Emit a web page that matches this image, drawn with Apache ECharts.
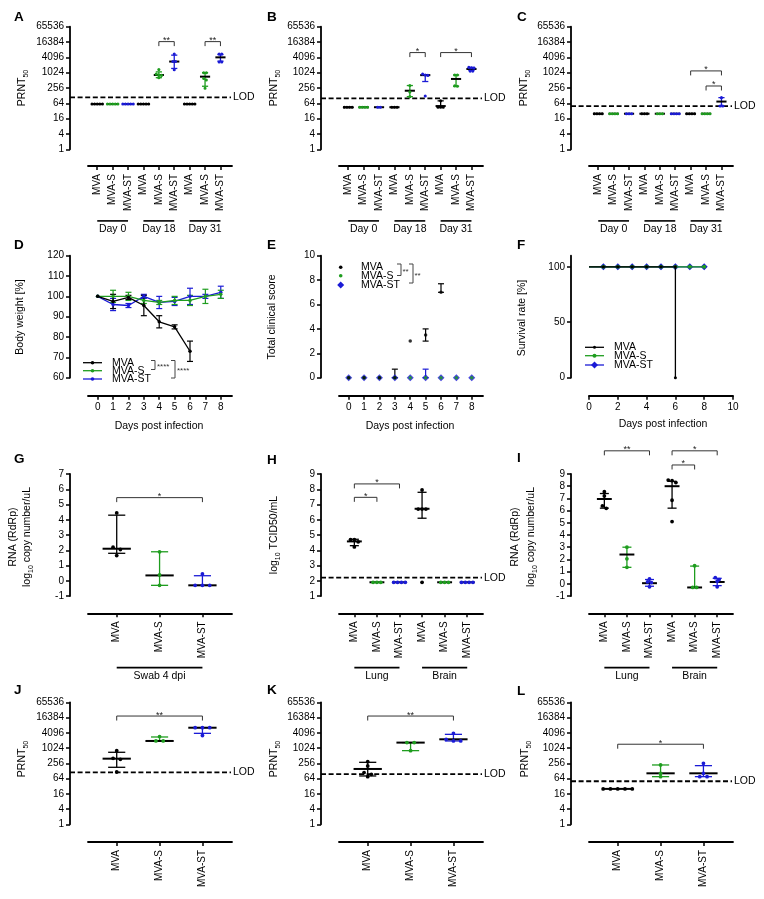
<!DOCTYPE html>
<html>
<head>
<meta charset="utf-8">
<script src="https://cdn.jsdelivr.net/npm/echarts@6.0.0/dist/echarts.min.js"></script>
<style>
html,body{margin:0;padding:0;background:#fff;}
#chart{width:764px;height:899px;}
</style>
</head>
<body>
<div id="chart"></div>
<script>
// ====================== DATA ======================
const CATS9 = ['MVA','MVA-S','MVA-ST','MVA','MVA-S','MVA-ST','MVA','MVA-S','MVA-ST'];
const CATS6 = ['MVA','MVA-S','MVA-ST','MVA','MVA-S','MVA-ST'];
const CATS3 = ['MVA','MVA-S','MVA-ST'];
const DAY_GROUPS = ['Day 0','Day 18','Day 31'];
const ORGAN_GROUPS = ['Lung','Brain'];
const SWAB_GROUPS = ['Swab 4 dpi'];
const PRNT_TICKS = [1,4,16,64,256,1024,4096,16384,65536];

// Panel A
const A_points = [[60,60,60,60,60],[60,60,60,60,60],[60,60,60,60,60],[60,60,60,60,60],[1350,900,820,800,650],[5500,2800,2800,1330],[60,60,60,60,60],[1024,1024,600,530,250],[5500,5500,2700,2700]];
const A_center = [60,60,60,60,830,2800,60,714,4096];
const A_low = [60,60,60,60,650,1500,60,300,2900];
const A_high = [60,60,60,60,1100,5000,60,1024,5300];
const A_lod = 110;
const A_sig = [[4,5,17000,'**'],[7,8,17000,'**']];

// Panel B
const B_points = [[45,45,45,45],[45,45,45,45],[45,45],[45,45,45],[320,180,117],[900,830,800,125],[80,45,45,45],[830,830,310,300],[1650,1600,1550,1180,1180]];
const B_center = [45,45,45,45,200,820,50,580,1430];
const B_low = [45,45,45,45,117,460,45,300,1250];
const B_high = [45,45,45,45,320,820,80,830,1650];
const B_lod = 100;
const B_sig = [[4,5,6300,'*'],[6,8,6300,'*']];

// Panel C
const C_points = [[25,25,25,25],[25,25,25,25],[25,25,25],[25,25,25],[25,25,25],[25,25,25,25],[25,25,25,25],[25,25,25,25],[107,50,50]];
const C_center = [25,25,25,25,25,25,25,25,75];
const C_low = [25,25,25,25,25,25,25,25,50];
const C_high = [25,25,25,25,25,25,25,25,107];
const C_lod = 50;
const C_sig = [[6,8,1200,'*'],[7,8,307,'*']];

// Panel D (body weight %)
const D_days = [0,1,2,3,4,5,6,7,8];
const D_MVA_mean = [100,97.5,99.5,95.5,87.5,85,73];
const D_MVA_sd = [0,3.5,1,5,3,1,5];
const D_MVAS_mean = [100,100,100,98,97,98,98,100,101];
const D_MVAS_sd = [0,3,2,1.5,1,2,2.5,3.5,2];
const D_MVAST_mean = [100,96,95.5,100,97,97.5,100,100,102];
const D_MVAST_sd = [0,3,1,1,3,2,4,1,3];

// Panel E (clinical score)
const E_days = [0,1,2,3,4,5,6,7,8];
const E_MVA = [0,0,0,0,3,3.5,7];
const E_MVA_low = [0,0,0,0,3,3,7];
const E_MVA_high = [0,0,0,0.7,3,4,7.7];
const E_MVAS = [0,0,0,0,0,0,0,0,0];
const E_MVAST = [0,0,0,0,0,0,0,0,0];
const E_MVAST_low = [0,0,0,0,0,0,0,0,0];
const E_MVAST_high = [0,0,0,0,0,0.7,0,0,0];

// Panel F (survival)
const F_MVA_days = [0,1,2,3,4,5,6,6];
const F_MVA = [100,100,100,100,100,100,100,0];
const F_MVAS_days = [0,1,2,3,4,5,6,7,8];
const F_MVAS = [100,100,100,100,100,100,100,100,100];
const F_MVAST_days = [0,1,2,3,4,5,6,7,8];
const F_MVAST = [100,100,100,100,100,100,100,100,100];

// Panel G (swab RNA log10)
const G_points = [[4.45,2.2,2.05,1.65],[1.9,0.38,-0.3],[0.45,-0.3,-0.3,-0.3]];
const G_center = [2.1,0.35,-0.3];
const G_low = [1.8,-0.3,-0.3];
const G_high = [4.3,1.9,0.33];
const G_sig = [[0,2,5.45,'*']];

// Panel H (log10 TCID50/mL)
const H_points = [[4.7,4.7,4.55,4.22],[1.9,1.9,1.9],[1.9,1.9,1.9,1.9],[7.95,6.7,6.7,6.7,1.9],[1.9,1.9,1.9],[1.9,1.9,1.9,1.9]];
const H_center = [4.58,1.9,1.9,6.72,1.9,1.9];
const H_low = [4.3,1.9,1.9,6.1,1.9,1.9];
const H_high = [4.72,1.9,1.9,7.8,1.9,1.9];
const H_lod = 2.2;
const H_sig = [[0,2,8.35,'*'],[0,1,7.47,'*']];

// Panel I (tissue RNA log10)
const I_points = [[7.55,7.2,6.38,6.19],[3.0,2.05,1.35],[0.4,0.15,0.1,-0.25],[8.5,8.45,8.3,6.85,5.1],[1.48,-0.3,-0.3],[0.5,0.35,0.2,-0.25]];
const I_center = [6.95,2.4,0.05,8.0,-0.3,0.15];
const I_low = [6.2,1.35,-0.2,6.2,-0.3,-0.15];
const I_high = [7.4,3.0,0.35,8.4,1.45,0.45];
const I_sig = [[0,2,10.9,'**'],[3,5,10.9,'*'],[3,4,9.74,'*']];

// Panel J
const J_points = [[810,404,368,116],[2900,1950,1950],[6500,6500,6500,3200]];
const J_center = [390,1950,6500];
const J_low = [178,1950,3900];
const J_high = [697,2800,6500];
const J_lod = 112;
const J_sig = [[0,2,18800,'**']];

// Panel K
const K_points = [[298,200,110,94,76],[1680,1680,810],[3900,2270,1950,1950]];
const K_center = [153,1680,2270];
const K_low = [81,810,1950];
const K_high = [280,1680,3560];
const K_lod = 95;
const K_sig = [[0,2,18800,'**']];

// Panel L
const L_points = [[25,25,25,25,25],[220,103,76],[256,103,76,76]];
const L_center = [25,103,103];
const L_low = [25,76,76];
const L_high = [25,220,207];
const L_lod = 50;
const L_sig = [[0,2,1450,'*']];

// ====================== BUILD ======================
const FONT = '"Liberation Sans", Arial, Helvetica, sans-serif';
const COLOR = {'MVA':'#000000','MVA-S':'#1f9d1f','MVA-ST':'#1b1bd6'};
const COLS = [{yx:70,x0:88,x1:232},{yx:321,x0:339,x1:483},{yx:571,x0:589,x1:733}];
const ROWS = [{top:26.7,bot:149.3,xy:166},{top:255.7,bot:377.7,xy:395.7},{top:474,bot:596,xy:613.3},{top:702.3,bot:824.3,xy:842}];
const lg2 = v => Math.log2(v);
const ident = v => v;

const option = {animation:false, backgroundColor:'#ffffff', textStyle:{fontFamily:FONT},
  grid:[], xAxis:[], yAxis:[], series:[], graphic:{elements:[]}};
const GR = option.graphic.elements;

function merge(base, cfg){
  for (const k in cfg){
    if (cfg[k] && typeof cfg[k]==='object' && !Array.isArray(cfg[k]) && base[k] && typeof base[k]==='object')
      base[k] = Object.assign({}, base[k], cfg[k]);
    else base[k] = cfg[k];
  }
  return base;
}
function axisBase(){
  return {type:'value', splitLine:{show:false},
    axisLine:{show:true,onZero:false,lineStyle:{color:'#000',width:1.8}},
    axisTick:{show:true,length:4,lineStyle:{color:'#000',width:1.5}},
    axisLabel:{color:'#000',fontSize:10,fontFamily:FONT,margin:6}};
}
function addGrid(col,row,xCfg,yCfg){
  const c=COLS[col], r=ROWS[row];
  option.grid.push({left:c.x0, top:r.top, width:c.x1-c.x0, height:r.bot-r.top});
  const gi = option.grid.length-1;
  option.xAxis.push(merge(merge(axisBase(),{gridIndex:gi, offset:r.xy-r.bot}), xCfg));
  option.yAxis.push(merge(merge(axisBase(),{gridIndex:gi, offset:c.x0-c.yx}), yCfg));
  return gi;
}
function catX(cats,min,max){
  const idx = cats.map((_,i)=>i);
  return {min, max, axisTick:{customValues:idx}, axisLabel:{customValues:idx, rotate:90, margin:8, formatter:v=>cats[Math.round(v)]}};
}
function prntY(){
  const t = PRNT_TICKS.map(lg2);
  return {min:0, max:16, interval:2, axisTick:{customValues:t}, axisLabel:{customValues:t, formatter:v=>String(Math.round(Math.pow(2,v)))}};
}
function spreadX(ys, sp){
  const n = ys.length, order = ys.map((y,i)=>i).sort((a,b)=>ys[a]-ys[b]);
  const off = new Array(n).fill(0);
  let k=0;
  while(k<n){
    let j=k;
    while(j+1<n && ys[order[j+1]]-ys[order[k]]<2.5) j++;
    const m=j-k+1;
    for(let t=0;t<m;t++) off[order[k+t]] = (t-(m-1)/2)*sp;
    k=j+1;
  }
  return off;
}
function addDots(gi,cats,pts,ctr,lo,hi,tf){
  const cols = cats.map(c=>COLOR[c]);
  option.series.push({type:'custom', xAxisIndex:gi, yAxisIndex:gi, silent:true, clip:false, z:3,
    data: ctr.map((c,i)=>[i, tf(c), tf(lo[i]), tf(hi[i])]),
    renderItem(params, api){
      const i = params.dataIndex, x = api.value(0);
      const pc = api.coord([x, api.value(1)]), pl = api.coord([x, api.value(2)]), ph = api.coord([x, api.value(3)]);
      const bw = Math.abs(api.coord([x+1, api.value(1)])[0]-pc[0]);
      const col = cols[i], cap = bw*0.2, mw = bw*0.33, sp = bw*0.17, r = Math.min(1.9, bw*0.1);
      const ch = [];
      if (Math.abs(pl[1]-ph[1])>0.5){
        ch.push({type:'line', shape:{x1:pc[0],y1:pl[1],x2:pc[0],y2:ph[1]}, style:{stroke:col,lineWidth:1.3}});
        ch.push({type:'line', shape:{x1:pc[0]-cap,y1:pl[1],x2:pc[0]+cap,y2:pl[1]}, style:{stroke:col,lineWidth:1.3}});
        ch.push({type:'line', shape:{x1:pc[0]-cap,y1:ph[1],x2:pc[0]+cap,y2:ph[1]}, style:{stroke:col,lineWidth:1.3}});
      }
      ch.push({type:'line', shape:{x1:pc[0]-mw,y1:pc[1],x2:pc[0]+mw,y2:pc[1]}, style:{stroke:'#000',lineWidth:2}});
      const ys = pts[i].map(v=>api.coord([x, tf(v)])[1]);
      const off = spreadX(ys, sp);
      ys.forEach((y,k)=>ch.push({type:'circle', shape:{cx:pc[0]+off[k], cy:y, r:r}, style:{fill:col}}));
      return {type:'group', children:ch};
    }});
}
function addLOD(gi,col,lodT){
  const c = COLS[col];
  option.series.push({type:'custom', xAxisIndex:gi, yAxisIndex:gi, silent:true, clip:false, z:2,
    data:[[0,lodT]],
    renderItem(params, api){
      const cs = params.coordSys, y = api.coord([0, api.value(1)])[1];
      const xl = cs.x-(c.x0-c.yx), xr = cs.x+cs.width-1;
      return {type:'group', children:[
        {type:'line', shape:{x1:xl,y1:y,x2:xr,y2:y}, style:{stroke:'#000',lineWidth:1.8,lineDash:[5,2.6]}},
        {type:'text', x:xr+2, y:y, style:{text:'LOD', fill:'#000', fontSize:10.5, fontFamily:FONT, align:'left', verticalAlign:'middle'}}
      ]};
    }});
}
function addSig(gi,sig,tf){
  option.series.push({type:'custom', xAxisIndex:gi, yAxisIndex:gi, silent:true, clip:false, z:4,
    data: sig.map(s=>[s[0], tf(s[2]), s[1]]),
    renderItem(params, api){
      const s = sig[params.dataIndex];
      const p1 = api.coord([api.value(0), api.value(1)]), p2 = api.coord([api.value(2), api.value(1)]);
      return {type:'group', children:[
        {type:'polyline', shape:{points:[[p1[0],p1[1]+4.5],[p1[0],p1[1]],[p2[0],p2[1]],[p2[0],p2[1]+4.5]]}, style:{stroke:'#333',lineWidth:1,fill:'none'}},
        {type:'text', x:(p1[0]+p2[0])/2, y:p1[1]-5.5, style:{text:s[3], fill:'#222', fontSize:9, fontFamily:FONT, align:'center', verticalAlign:'top'}}
      ]};
    }});
}
function addGroups(gi,groups,names){
  option.series.push({type:'custom', xAxisIndex:gi, yAxisIndex:gi, silent:true, clip:false,
    data: groups.map(g=>[g[0],0,g[1]]),
    renderItem(params, api){
      const cs = params.coordSys, yb = cs.y+cs.height+71.6;
      const x1 = api.coord([api.value(0),0])[0], x2 = api.coord([api.value(2),0])[0];
      return {type:'group', children:[
        {type:'line', shape:{x1:x1,y1:yb,x2:x2,y2:yb}, style:{stroke:'#000',lineWidth:1.6}},
        {type:'text', x:(x1+x2)/2, y:yb+8.3, style:{text:names[params.dataIndex], fill:'#000', fontSize:10.5, fontFamily:FONT, align:'center', verticalAlign:'middle'}}
      ]};
    }});
}
function addErr(gi,xs,lo,hi,color,z){
  option.series.push({type:'custom', xAxisIndex:gi, yAxisIndex:gi, silent:true, clip:false, z:z||2,
    data: lo.map((l,i)=>[xs[i], l, hi[i]]),
    renderItem(params, api){
      const p1 = api.coord([api.value(0), api.value(1)]), p2 = api.coord([api.value(0), api.value(2)]);
      if (Math.abs(p1[1]-p2[1])<0.5) return {type:'group', children:[]};
      const cp = 3;
      return {type:'group', children:[
        {type:'line', shape:{x1:p1[0],y1:p1[1],x2:p2[0],y2:p2[1]}, style:{stroke:color,lineWidth:1.2}},
        {type:'line', shape:{x1:p1[0]-cp,y1:p1[1],x2:p1[0]+cp,y2:p1[1]}, style:{stroke:color,lineWidth:1.2}},
        {type:'line', shape:{x1:p2[0]-cp,y1:p2[1],x2:p2[0]+cp,y2:p2[1]}, style:{stroke:color,lineWidth:1.2}}
      ]};
    }});
}
function addLine(gi,xs,ys,color,symbol,size,z,hideFirst){
  option.series.push({type:'line', xAxisIndex:gi, yAxisIndex:gi, silent:true, z:z,
    data: ys.map((v,i)=> (hideFirst && i===0) ? {value:[xs[i],v], symbol:'none'} : [xs[i],v]),
    symbol:symbol, symbolSize:size, showSymbol:true, showAllSymbol:true,
    lineStyle:{color:color,width:1.3}, itemStyle:{color:color}});
}
function addScatter(gi,xs,ys,color,symbol,size,z){
  option.series.push({type:'scatter', xAxisIndex:gi, yAxisIndex:gi, silent:true, z:z,
    data: ys.map((v,i)=>[xs[i],v]), symbol:symbol, symbolSize:size, itemStyle:{color:color}});
}
// graphic helpers
function txt(x,y,text,style,rot){
  GR.push({type:'text', x:x, y:y, rotation:rot||0, silent:true,
    style:Object.assign({text:text, fill:'#000', fontSize:10.5, fontFamily:FONT, align:'center', verticalAlign:'middle'}, style||{})});
}
const SUB = {s:{fontSize:7, lineHeight:7, verticalAlign:'bottom', fontFamily:FONT}};
function ytitle(x,y,text){ txt(x,y,text,{rich:SUB, lineHeight:15}, Math.PI/2); }
function letter(x,y,t){ txt(x,y,t,{fontSize:13.5, fontWeight:'bold', align:'left'}); }
function gline(x1,y1,x2,y2,color,w){ GR.push({type:'line', silent:true, shape:{x1,y1,x2,y2}, style:{stroke:color,lineWidth:w||1.3}}); }
function gpoly(points,color,w){ GR.push({type:'polyline', silent:true, shape:{points}, style:{stroke:color,lineWidth:w||1,fill:'none'}}); }
function gcircle(cx,cy,r,color){ GR.push({type:'circle', silent:true, shape:{cx,cy,r}, style:{fill:color}}); }
function gdiamond(cx,cy,r,color){ GR.push({type:'polygon', silent:true, shape:{points:[[cx,cy-r],[cx+r,cy],[cx,cy+r],[cx-r,cy]]}, style:{fill:color}}); }

// ---- Row 1: A, B, C ----
const rowABC = [
  {col:0, L:'A', pts:A_points, c:A_center, lo:A_low, hi:A_high, lod:A_lod, sig:A_sig},
  {col:1, L:'B', pts:B_points, c:B_center, lo:B_low, hi:B_high, lod:B_lod, sig:B_sig},
  {col:2, L:'C', pts:C_points, c:C_center, lo:C_low, hi:C_high, lod:C_lod, sig:C_sig}
];
rowABC.forEach(p=>{
  const gi = addGrid(p.col,0,catX(CATS9,-0.6,8.75),prntY());
  addLOD(gi,p.col,lg2(p.lod));
  addDots(gi,CATS9,p.pts,p.c,p.lo,p.hi,lg2);
  addSig(gi,p.sig,lg2);
  addGroups(gi,[[0,2],[3,5],[6,8]],DAY_GROUPS);
});

// ---- Row 2: D, E, F ----
const giD = addGrid(0,1,{min:-0.63,max:8.73,axisTick:{customValues:D_days},axisLabel:{customValues:D_days,margin:7}},{min:60,max:120,interval:10});
addErr(giD,D_days,D_MVAST_mean.map((m,i)=>m-D_MVAST_sd[i]),D_MVAST_mean.map((m,i)=>m+D_MVAST_sd[i]),COLOR['MVA-ST'],2);
addErr(giD,D_days,D_MVAS_mean.map((m,i)=>m-D_MVAS_sd[i]),D_MVAS_mean.map((m,i)=>m+D_MVAS_sd[i]),COLOR['MVA-S'],2);
addErr(giD,D_days,D_MVA_mean.map((m,i)=>m-D_MVA_sd[i]),D_MVA_mean.map((m,i)=>m+D_MVA_sd[i]),COLOR['MVA'],2);
addLine(giD,D_days,D_MVAST_mean,COLOR['MVA-ST'],'circle',3.5,3);
addLine(giD,D_days,D_MVAS_mean,COLOR['MVA-S'],'circle',3.5,4);
addLine(giD,D_days,D_MVA_mean,COLOR['MVA'],'circle',3.5,5);

const giE = addGrid(1,1,{min:-0.63,max:8.73,axisTick:{customValues:E_days},axisLabel:{customValues:E_days,margin:7}},{min:0,max:10,interval:2});
addErr(giE,E_days,E_MVAST_low,E_MVAST_high,COLOR['MVA-ST'],2);
addErr(giE,E_days,E_MVA_low,E_MVA_high,COLOR['MVA'],2);
addScatter(giE,E_days,E_MVAST,COLOR['MVA-ST'],'diamond',7,3);
addScatter(giE,E_days,E_MVAS,COLOR['MVA-S'],'circle',3.5,4);
addScatter(giE,E_days,E_MVA,COLOR['MVA'],'circle',3.5,5);

const survTicks = [0,50,100];
const giF = addGrid(2,1,{min:0,max:10,interval:2,axisLabel:{margin:7}},{min:0,max:110,axisTick:{customValues:survTicks},axisLabel:{customValues:survTicks}});
addLine(giF,F_MVAST_days,F_MVAST,COLOR['MVA-ST'],'diamond',7,3,true);
addLine(giF,F_MVAS_days,F_MVAS,COLOR['MVA-S'],'circle',4,4,true);
addLine(giF,F_MVA_days,F_MVA,COLOR['MVA'],'circle',3,5,true);

// ---- Row 3: G, H, I ----
const giG = addGrid(0,2,catX(CATS3,-0.67,2.69),{min:-1,max:7,interval:1});
addDots(giG,CATS3,G_points,G_center,G_low,G_high,ident);
addSig(giG,G_sig,ident);
addGroups(giG,[[0,2]],SWAB_GROUPS);

const giH = addGrid(1,2,catX(CATS6,-0.68,5.7),{min:1,max:9,interval:1});
addLOD(giH,1,H_lod);
addDots(giH,CATS6,H_points,H_center,H_low,H_high,ident);
addSig(giH,H_sig,ident);
addGroups(giH,[[0,2],[3,5]],ORGAN_GROUPS);

const giI = addGrid(2,2,catX(CATS6,-0.68,5.7),{min:-1,max:9,interval:1});
addDots(giI,CATS6,I_points,I_center,I_low,I_high,ident);
addSig(giI,I_sig,ident);
addGroups(giI,[[0,2],[3,5]],ORGAN_GROUPS);

// ---- Row 4: J, K, L ----
[
  {col:0, pts:J_points, c:J_center, lo:J_low, hi:J_high, lod:J_lod, sig:J_sig},
  {col:1, pts:K_points, c:K_center, lo:K_low, hi:K_high, lod:K_lod, sig:K_sig},
  {col:2, pts:L_points, c:L_center, lo:L_low, hi:L_high, lod:L_lod, sig:L_sig}
].forEach(p=>{
  const gi = addGrid(p.col,3,catX(CATS3,-0.67,2.69),prntY());
  addLOD(gi,p.col,lg2(p.lod));
  addDots(gi,CATS3,p.pts,p.c,p.lo,p.hi,lg2);
  addSig(gi,p.sig,lg2);
});

// ---- Panel letters ----
letter(14,17,'A'); letter(267,17,'B'); letter(517,17,'C');
letter(14,245,'D'); letter(267,245,'E'); letter(517,245,'F');
letter(14,459,'G'); letter(267,460,'H'); letter(517,458,'I');
letter(14,690,'J'); letter(267,690,'K'); letter(517,691,'L');

// ---- Axis titles ----
ytitle(22,88,'PRNT{s|50}'); ytitle(274,88,'PRNT{s|50}'); ytitle(524,88,'PRNT{s|50}');
ytitle(20,317,'Body weight [%]'); ytitle(272,317,'Total clinical score'); ytitle(522,318,'Survival rate [%]');
txt(159,426,'Days post infection'); txt(410,426,'Days post infection'); txt(663,424,'Days post infection');
ytitle(13,537,'RNA (RdRp)'); ytitle(27,537,'log{s|10} copy number/uL');
ytitle(274,535,'log{s|10} TCID50/mL');
ytitle(515,537,'RNA (RdRp)'); ytitle(531,537,'log{s|10} copy number/uL');
ytitle(22,759,'PRNT{s|50}'); ytitle(274,759,'PRNT{s|50}'); ytitle(525,759,'PRNT{s|50}');

// ---- Legend D ----
const legNames = ['MVA','MVA-S','MVA-ST'];
[362.7,370.7,379].forEach((y,i)=>{
  const col = COLOR[legNames[i]];
  gline(83,y,102,y,col,1.3); gcircle(92.5,y,1.8,col);
  txt(112,y,legNames[i],{align:'left'});
});
gpoly([[151,360.5],[155,360.5],[155,369.5],[151,369.5]],'#444',1);
txt(157,367,'****',{align:'left',fontSize:8,fill:'#333'});
gpoly([[171,360.5],[175,360.5],[175,378],[171,378]],'#444',1);
txt(177,371,'****',{align:'left',fontSize:8,fill:'#333'});

// ---- Legend E ----
[267.3,275.7,285].forEach((y,i)=>{
  const col = COLOR[legNames[i]];
  if (i===2) gdiamond(340.7,y,3.5,col); else gcircle(340.7,y,1.8,col);
  txt(361,y,legNames[i],{align:'left'});
});
gpoly([[397,264],[401,264],[401,275.5],[397,275.5]],'#444',1);
txt(402.5,272,'**',{align:'left',fontSize:8,fill:'#333'});
gpoly([[409,264],[413,264],[413,283],[409,283]],'#444',1);
txt(414.5,276,'**',{align:'left',fontSize:8,fill:'#333'});

// ---- Legend F ----
[347.3,355.7,365].forEach((y,i)=>{
  const col = COLOR[legNames[i]];
  gline(585,y,604,y,col,1.3);
  if (i===2) gdiamond(594.5,y,3.5,col); else gcircle(594.5,y,i===1?2:1.5,col);
  txt(614,y,legNames[i],{align:'left'});
});

const chart = echarts.init(document.getElementById('chart'), null, {renderer:'canvas'});
chart.setOption(option);
</script>
</body>
</html>
